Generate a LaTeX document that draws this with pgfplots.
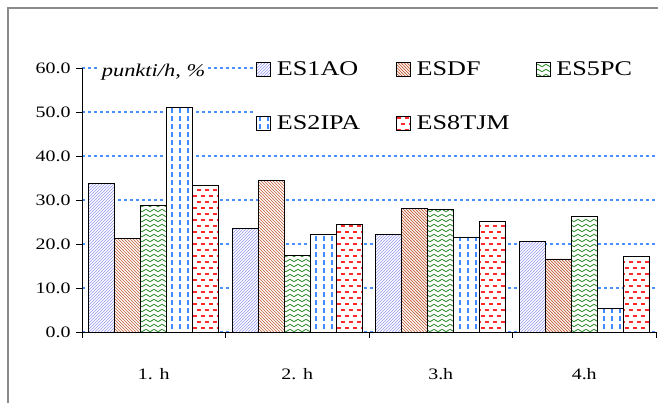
\documentclass[border=0pt]{standalone}
\usepackage{fontspec}
\setmainfont[FakeStretch=1.25]{Liberation Serif}
\usepackage{pgfplots}
\pgfplotsset{compat=1.18}
\usetikzlibrary{patterns}
\definecolor{gridblue}{HTML}{4A90FF}
\definecolor{lavline}{HTML}{9A9AF2}
\definecolor{brownline}{HTML}{C4603A}
\definecolor{greenline}{HTML}{2A8A2A}
\definecolor{blueline}{HTML}{3A8CFF}
\definecolor{redline}{HTML}{FF2A2A}
\definecolor{framegray}{HTML}{8A8A8A}

\pgfdeclarepatternformonly{nelines}{\pgfqpoint{-1bp}{-1bp}}{\pgfqpoint{4bp}{4bp}}{\pgfqpoint{3bp}{3bp}}{%
  \pgfsetlinewidth{0.55bp}%
  \pgfpathmoveto{\pgfqpoint{-0.2bp}{-0.2bp}}\pgfpathlineto{\pgfqpoint{3.2bp}{3.2bp}}\pgfusepath{stroke}}
\pgfdeclarepatternformonly{nwlines}{\pgfqpoint{-1bp}{-1bp}}{\pgfqpoint{4bp}{4bp}}{\pgfqpoint{3bp}{3bp}}{%
  \pgfsetlinewidth{0.7bp}%
  \pgfpathmoveto{\pgfqpoint{-0.2bp}{3.2bp}}\pgfpathlineto{\pgfqpoint{3.2bp}{-0.2bp}}\pgfusepath{stroke}}
\pgfdeclarepatternformonly{waves}{\pgfqpoint{-1bp}{-1bp}}{\pgfqpoint{9bp}{6bp}}{\pgfqpoint{8bp}{5bp}}{%
  \pgfsetlinewidth{0.8bp}%
  \pgfpathmoveto{\pgfqpoint{0bp}{2.5bp}}%
  \pgfpathsine{\pgfqpoint{2bp}{1.2bp}}\pgfpathcosine{\pgfqpoint{2bp}{-1.2bp}}%
  \pgfpathsine{\pgfqpoint{2bp}{-1.2bp}}\pgfpathcosine{\pgfqpoint{2bp}{1.2bp}}%
  \pgfusepath{stroke}}
\pgfdeclarepatternformonly{vdashes}{\pgfqpoint{-1bp}{-1bp}}{\pgfqpoint{9bp}{9bp}}{\pgfqpoint{8bp}{8bp}}{%
  \pgfsetlinewidth{1.1bp}%
  \pgfpathmoveto{\pgfqpoint{4bp}{1.5bp}}\pgfpathlineto{\pgfqpoint{4bp}{6.5bp}}\pgfusepath{stroke}}
\pgfdeclarepatternformonly{hdashes}{\pgfqpoint{-1bp}{-1bp}}{\pgfqpoint{9bp}{13bp}}{\pgfqpoint{8bp}{12bp}}{%
  \pgfsetlinewidth{1.1bp}%
  \pgfpathmoveto{\pgfqpoint{0.5bp}{3bp}}\pgfpathlineto{\pgfqpoint{4.5bp}{3bp}}%
  \pgfpathmoveto{\pgfqpoint{4.5bp}{9bp}}\pgfpathlineto{\pgfqpoint{8.5bp}{9bp}}%
  \pgfusepath{stroke}}

\begin{document}
\begin{tikzpicture}
\path[use as bounding box] (0,0) rectangle (658bp,403bp);
\draw[framegray, line width=2bp] (8bp,0) -- (8bp,395bp) -- (658bp,395bp);
\begin{axis}[
  at={(82bp,71bp)}, anchor=south west,
  scale only axis, width=574bp, height=264bp,
  xmin=0, xmax=4, ymin=0, ymax=60,
  clip=false,
  axis x line=bottom, axis y line=left,
  axis line style={-, line width=0.8bp, black},
  every tick/.style={black, line width=0.8bp},
  tick align=outside,
  major tick length=6bp,
  ybar=0pt, bar width=0.181,
  xtick={0,1,2,3,4}, xticklabels={},
  extra x ticks={0.5,1.5,2.5,3.5},
  extra x tick labels={1. h,2. h,3.h,4.h},
  extra x tick style={major tick length=0pt, xticklabel style={yshift=-33bp}},
  xticklabel style={font=\fontsize{16}{19}\selectfont},
  ytick={0,10,...,60},
  yticklabel style={font=\fontsize{16}{19}\selectfont, xshift=-2bp},
  /pgf/number format/.cd, fixed, fixed zerofill, precision=1, assume math mode=true,
  /pgfplots/.cd,
  ymajorgrids,
  grid style={gridblue, dash pattern=on 3bp off 3bp, line width=1.2bp},
  legend columns=3,
  legend style={at={(rel axis cs:0.2995,1.055)}, anchor=north west, draw=none, fill=white,
    font=\fontsize{21}{24}\selectfont, row sep=35bp, column sep=0pt,
    inner xsep=2bp, inner ysep=6bp},
  legend cell align=left,
  legend image code/.code={\draw[#1, line width=0.8bp] (0bp,-7bp) rectangle (14bp,7bp);},
]
\addplot[draw=black, line width=0.8bp, fill=white, postaction={pattern=nelines, pattern color=lavline}]
  coordinates {(0.5,33.8) (1.5,23.5) (2.5,22.2) (3.5,20.6)};
\addplot[draw=black, line width=0.8bp, fill=white, postaction={pattern=nwlines, pattern color=brownline}]
  coordinates {(0.5,21.2) (1.5,34.4) (2.5,28.1) (3.5,16.6)};
\addplot[draw=black, line width=0.8bp, fill=white, postaction={pattern=waves, pattern color=greenline}]
  coordinates {(0.5,28.7) (1.5,17.4) (2.5,27.9) (3.5,26.3)};
\addplot[draw=black, line width=0.8bp, fill=white, postaction={pattern=vdashes, pattern color=blueline}]
  coordinates {(0.5,51.0) (1.5,22.2) (2.5,21.6) (3.5,5.3)};
\addplot[draw=black, line width=0.8bp, fill=white, postaction={pattern=hdashes, pattern color=redline}]
  coordinates {(0.5,33.4) (1.5,24.4) (2.5,25.1) (3.5,17.2)};
\legend{\makebox[121bp][l]{\hspace{4bp}ES1AO},\makebox[121bp][l]{\hspace{4bp}ESDF},\makebox[100bp][l]{\hspace{4bp}ES5PC},\makebox[121bp][l]{\hspace{4bp}ES2IPA},\makebox[121bp][l]{\hspace{4bp}ES8TJM}}
\node[fill=white, inner sep=2bp, font=\itshape\fontsize{18}{21}\selectfont] at (rel axis cs:0.1246,0.985) {punkti/h, \%};
\end{axis}
\end{tikzpicture}
\end{document}
